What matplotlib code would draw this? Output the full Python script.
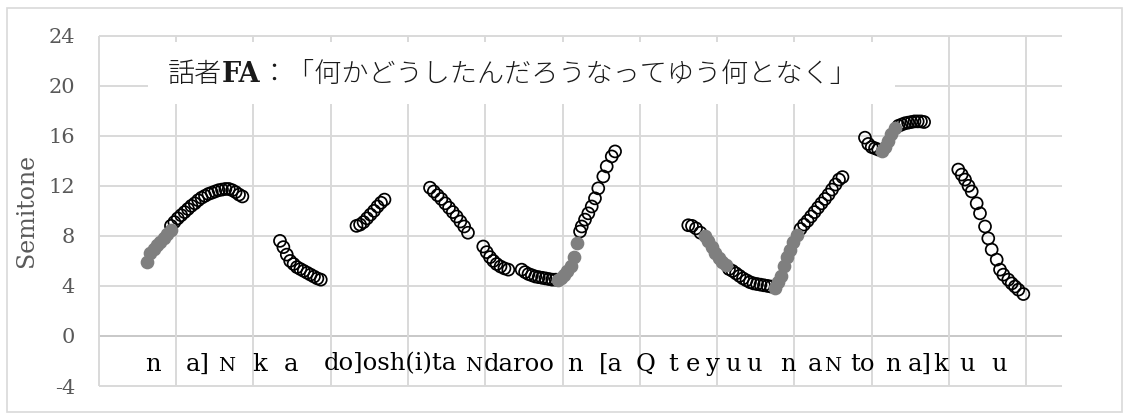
import matplotlib
matplotlib.use("Agg")
import matplotlib.pyplot as plt
from matplotlib.patches import Rectangle

# Pitch track (semitones) against time; open circles and grey filled circles
open_x = [
    0.935, 0.979, 1.023, 1.067, 1.111, 1.155, 1.199, 1.243, 1.287, 1.331, 1.375,
    1.419, 1.463, 1.507, 1.551, 1.595, 1.639, 1.683, 1.727, 1.771, 1.815, 1.859,
    2.345, 2.389, 2.433, 2.477, 2.521, 2.565, 2.609, 2.653, 2.697, 2.741, 2.785, 2.829, 2.873,
    3.335, 3.381, 3.426, 3.471, 3.516, 3.562, 3.607, 3.652, 3.697,
    4.286, 4.335, 4.384, 4.433, 4.483, 4.532, 4.581, 4.630, 4.679, 4.728, 4.777,
    4.975, 5.019, 5.062, 5.105, 5.148, 5.198, 5.249, 5.299,
    5.472, 5.516, 5.560, 5.604, 5.648, 5.692, 5.736, 5.780, 5.824, 5.868, 5.912,
    6.227, 6.249, 6.291, 6.334, 6.378, 6.420, 6.463, 6.528, 6.572, 6.637, 6.680,
    7.627, 7.675, 7.727, 7.785,
    8.154, 8.199, 8.245, 8.290, 8.335, 8.380, 8.425, 8.471, 8.516, 8.561, 8.606, 8.652, 8.697,
    9.079, 9.124, 9.170, 9.215, 9.260, 9.305, 9.350, 9.396, 9.441, 9.486, 9.531, 9.577, 9.622,
    9.913, 9.956, 10.000, 10.043, 10.085,
    10.347, 10.388, 10.430, 10.471, 10.512, 10.554, 10.595, 10.637, 10.678,
    11.120, 11.164, 11.207, 11.252, 11.294, 11.358, 11.401, 11.466, 11.508, 11.552,
    11.617, 11.660, 11.703, 11.767, 11.811, 11.854, 11.897, 11.962,
]
open_y = [
    8.8, 9.1, 9.4, 9.65, 9.9, 10.15, 10.4, 10.6, 10.85, 11.05, 11.2,
    11.35, 11.45, 11.55, 11.65, 11.7, 11.75, 11.75, 11.65, 11.5, 11.3, 11.15,
    7.6, 7.1, 6.5, 6.0, 5.75, 5.5, 5.35, 5.2, 5.05, 4.9, 4.75, 4.6, 4.5,
    8.8, 8.9, 9.1, 9.4, 9.7, 10.0, 10.35, 10.65, 10.9,
    11.85, 11.55, 11.25, 10.95, 10.6, 10.25, 9.9, 9.55, 9.15, 8.75, 8.25,
    7.15, 6.7, 6.3, 6.0, 5.75, 5.55, 5.4, 5.3,
    5.3, 5.1, 4.95, 4.85, 4.75, 4.7, 4.65, 4.6, 4.55, 4.5, 4.5,
    8.35, 8.75, 9.3, 9.8, 10.35, 11.0, 11.8, 12.75, 13.55, 14.35, 14.75,
    8.85, 8.8, 8.6, 8.25,
    5.35, 5.2, 5.0, 4.8, 4.6, 4.45, 4.3, 4.2, 4.15, 4.1, 4.05, 4.0, 3.95,
    8.55, 8.9, 9.2, 9.55, 9.9, 10.25, 10.6, 10.95, 11.3, 11.7, 12.1, 12.5, 12.7,
    15.85, 15.35, 15.1, 15.0, 14.9,
    16.8, 16.9, 17.0, 17.05, 17.1, 17.15, 17.15, 17.15, 17.1,
    13.3, 12.9, 12.5, 12.0, 11.55, 10.6, 9.8, 8.75, 7.8, 6.9,
    6.1, 5.3, 4.9, 4.5, 4.2, 3.95, 3.7, 3.35,
]
filled_x = [
    0.621, 0.664, 0.709, 0.754, 0.799, 0.845, 0.890, 0.929,
    5.940, 5.979, 6.018, 6.056, 6.109, 6.153, 6.192,
    7.843, 7.888, 7.933, 7.978, 8.024, 8.069, 8.114,
    8.749, 8.788, 8.826, 8.865, 8.904, 8.943, 8.988, 9.034,
    10.133, 10.178, 10.217, 10.256, 10.301,
]
filled_y = [
    5.95, 6.6, 6.95, 7.25, 7.55, 7.85, 8.15, 8.45,
    4.45, 4.6, 4.9, 5.2, 5.6, 6.35, 7.45,
    7.95, 7.6, 7.1, 6.6, 6.2, 5.95, 5.7,
    3.8, 4.3, 4.8, 5.6, 6.3, 6.9, 7.5, 8.1,
    14.75, 15.1, 15.6, 16.15, 16.6,
]

y_ticks = [-4, 0, 4, 8, 12, 16, 20, 24]
y_tick_labels = ["-4", "0", "4", "8", "12", "16", "20", "24"]
x_grid = list(range(13))

# Romanised syllables written under the pitch track
syllables = ["n", "a]", "N", "k", "a", "do]osh(i)ta", "N", "daroo", "n", "[a", "Q",
             "t", "e", "y", "u", "u", "n", "a", "N", "to", "n", "a]", "k", "u", "u"]
syllable_small = [False, False, True, False, False, False, True, False, False, False, False,
                  False, False, False, False, False, False, False, True, False, False, False,
                  False, False, False]
# horizontal anchor of each syllable (time axis) and its alignment
syllable_pos = [0.702, 1.278, 1.660, 2.087, 2.488, 2.915, 4.846, 4.985, 6.162, 6.628, 7.081,
                7.430, 7.689, 7.948, 8.207, 8.478, 8.917, 9.266, 9.495, 9.887, 10.275, 10.624,
                10.896, 11.240, 11.653]
syllable_ha = ["center"] * 5 + ["left", "center", "left"] + ["center"] * 17

title_parts = ["話者", "FA", "：「何かどうしたんだろうなってゆう何となく」"]

W, H = 1129, 416
fig = plt.figure(figsize=(W / 100, H / 100), dpi=100)
fig.patch.set_facecolor("white")

left, right, top, bottom = 98.7, 1062.0, 35.7, 386.0
ax = fig.add_axes([left / W, 1 - bottom / H, (right - left) / W, (bottom - top) / H])
ax.set_xlim(0, (right - left) / 77.3)
ax.set_ylim(-4, 24)
for s in ax.spines.values():
    s.set_visible(False)

grid_c = "#d9d9d9"
for yv in y_ticks:
    ax.plot([0, ax.get_xlim()[1]], [yv, yv], color="#c8c8c8" if yv == 0 else grid_c,
            lw=1.4, zorder=1, clip_on=False, solid_capstyle="butt")
for xv in x_grid:
    ax.plot([xv, xv], [-4, 24], color=grid_c, lw=1.4, zorder=1, clip_on=False,
            solid_capstyle="butt")

ax.set_xticks([])
ax.set_yticks(y_ticks)
ax.set_yticklabels(y_tick_labels, fontfamily="DejaVu Serif", fontsize=15, color="#595959")
ax.tick_params(axis="y", length=0, pad=17)

ax.set_ylabel("Semitone", fontfamily="DejaVu Serif", fontsize=17, color="#595959")
ax.yaxis.set_label_coords((38 - left) / (right - left), 0.5)

# white box behind the title
ax.add_patch(Rectangle(((148 - left) / (right - left), (bottom - 104) / (bottom - top)),
                       (895 - 148) / (right - left), (104 - 42) / (bottom - top),
                       transform=ax.transAxes, facecolor="white", edgecolor="none",
                       zorder=2, clip_on=False))

ax.scatter(open_x, open_y, s=74, facecolors="none", edgecolors="black",
           linewidths=1.25, zorder=4)
ax.scatter(filled_x, filled_y, s=74, facecolors="#7f7f7f", edgecolors="#7f7f7f",
           linewidths=1.25, zorder=5)

for txt, small, xp, ha in zip(syllables, syllable_small, syllable_pos, syllable_ha):
    ax.text(xp, -2.77, txt, ha=ha, va="baseline", fontfamily="DejaVu Serif",
            fontsize=14 if small else 17.5, color="black", zorder=6)

# title assembled from pieces so that "FA" can be set in bold serif
fig.canvas.draw()
r = fig.canvas.get_renderer()
ax_w = ax.get_window_extent(r).width
styles = [dict(fontfamily=["Noto Sans CJK JP", "DejaVu Sans"], fontsize=19.5, fontweight="light"),
          dict(fontfamily="DejaVu Serif", fontsize=19.5, fontweight="bold"),
          dict(fontfamily=["Noto Sans CJK JP", "DejaVu Sans"], fontsize=19.5, fontweight="light")]
ty = (bottom - 82) / (bottom - top)
objs, widths = [], []
for part, st in zip(title_parts, styles):
    t = ax.text(0, ty, part, transform=ax.transAxes, ha="left", va="baseline",
                color="#1a1a1a", zorder=6, **st)
    objs.append(t)
    widths.append(t.get_window_extent(r).width)
cx = ((168 + 857) / 2 - left) / (right - left)
xpos = cx - sum(widths) / 2 / ax_w
for t, w in zip(objs, widths):
    t.set_x(xpos)
    xpos += w / ax_w

# light frame around the whole chart
fig.add_artist(Rectangle((7 / W, 1 - 412 / H), (1122 - 7) / W, (412 - 8) / H,
                         transform=fig.transFigure, facecolor="none",
                         edgecolor="#d9d9d9", lw=1.2))

fig.savefig("out.png", dpi=100)
